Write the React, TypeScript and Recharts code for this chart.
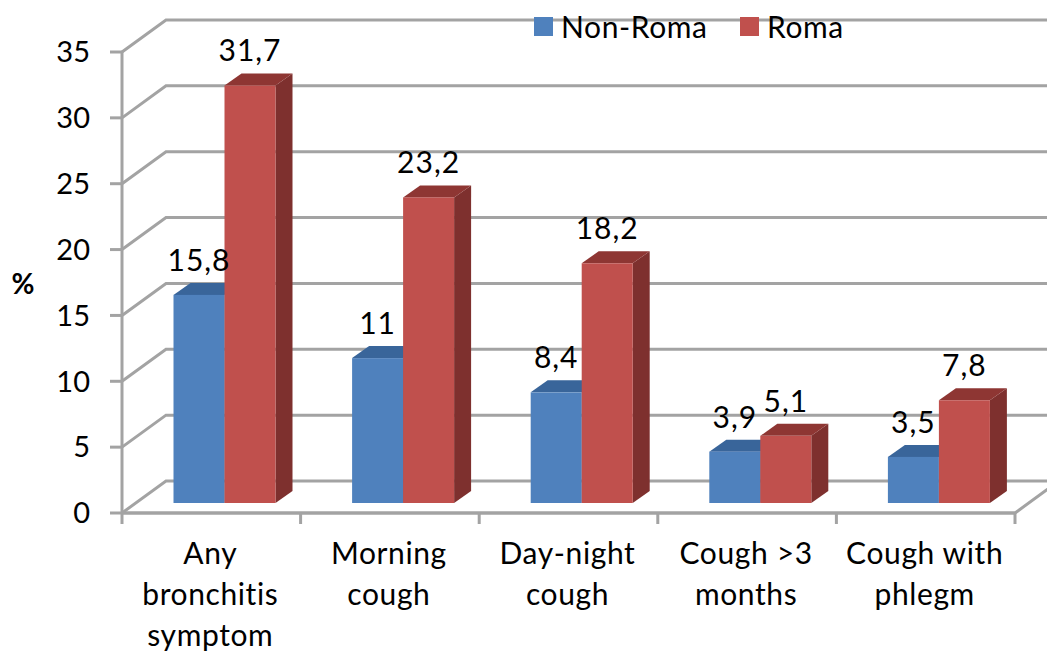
import React from "react";
import { ComposedChart, Bar, XAxis, YAxis, CartesianGrid, Legend, LabelList } from "recharts";

const categoryLines: string[][] = [
  ["Any", "bronchitis", "symptom"],
  ["Morning", "cough"],
  ["Day-night", "cough"],
  ["Cough >3", "months"],
  ["Cough with", "phlegm"],
];
const nonRoma = [15.8, 11, 8.4, 3.9, 3.5];
const roma = [31.7, 23.2, 18.2, 5.1, 7.8];
const yTicks = [0, 5, 10, 15, 20, 25, 30, 35];

const data = categoryLines.map((lines, i) => ({
  category: lines.join(" "),
  lines,
  nonRoma: nonRoma[i],
  roma: roma[i],
}));

const FONT = "Lato, Carlito, sans-serif";
const FONT_SIZE = 30;
const SPACING = 0.6;
const GRID = "#a3a3a3";
const GRID_WIDTH = 3;
const SHIFT_X = 13.5;
const SHIFT_Y = -10;
const DEPTH_X = 17;
const DEPTH_Y = -12;
const WALL_X = 44;
const WALL_Y = -32;

const shape3d = (front: string, top: string, side: string) => (props: any) => {
  const { x, y, width, height } = props;
  const l = x + SHIFT_X;
  const r = l + width;
  const t = y + SHIFT_Y;
  const b = t + height;
  return (
    <g>
      <polygon points={`${r},${t} ${r + DEPTH_X},${t + DEPTH_Y} ${r + DEPTH_X},${b + DEPTH_Y} ${r},${b}`} fill={side} />
      <polygon points={`${l},${t} ${l + DEPTH_X},${t + DEPTH_Y} ${r + DEPTH_X},${t + DEPTH_Y} ${r},${t}`} fill={top} />
      <rect x={l} y={t} width={width} height={height} fill={front} />
    </g>
  );
};

const valueLabel = (props: any) => {
  const { x, y, width, value } = props;
  return (
    <text
      x={x + SHIFT_X + width / 2}
      y={y + SHIFT_Y - 24}
      textAnchor="middle"
      fontFamily={FONT}
      fontSize={FONT_SIZE}
      letterSpacing={1}
      fill="#000"
    >
      {String(value).replace(".", ",")}
    </text>
  );
};

const gridLine = (props: any) => {
  const { x1, x2, y1, index } = props;
  const isFloor = Math.abs(y1 - 513) < 1;
  return (
    <g key={`g-${index}-${y1}`} fill="none" stroke={GRID} strokeWidth={GRID_WIDTH}>
      <polyline points={`${x1},${y1} ${x1 + WALL_X},${y1 + WALL_Y} 1047,${y1 + WALL_Y}`} />
      {isFloor && <polyline points={`${x1},${y1} ${x2},${y1} ${x2 + WALL_X},${y1 + WALL_Y}`} />}
    </g>
  );
};

const XTick = (props: any) => {
  const { x, y, payload, index } = props;
  const half = payload.offset ?? 89.3;
  const lines = categoryLines[index] ?? [];
  return (
    <g>
      <line x1={x - half} x2={x - half} y1={y} y2={y + 11} stroke={GRID} strokeWidth={GRID_WIDTH} />
      {index === categoryLines.length - 1 && (
        <line x1={x + half} x2={x + half} y1={y} y2={y + 11} stroke={GRID} strokeWidth={GRID_WIDTH} />
      )}
      <text textAnchor="middle" fontFamily={FONT} fontSize={FONT_SIZE} letterSpacing={SPACING} fill="#000">
        {lines.map((s, i) => (
          <tspan key={s} x={x - 1} y={y + 51 + i * 41}>
            {s}
          </tspan>
        ))}
      </text>
    </g>
  );
};

const legendContent = (props: any) => {
  const lefts = [534, 740];
  return (
    <>
      {(props.payload ?? []).map((p: any, i: number) => (
        <div
          key={p.value}
          style={{
            position: "absolute",
            left: lefts[i],
            top: 8,
            display: "flex",
            alignItems: "center",
            fontFamily: FONT,
            fontSize: FONT_SIZE,
            letterSpacing: SPACING,
            lineHeight: "36px",
            color: "#000",
            whiteSpace: "nowrap",
          }}
        >
          <span style={{ width: 19, height: 19, background: p.color, marginRight: 8, display: "inline-block" }} />
          {p.value}
        </div>
      ))}
    </>
  );
};

export default function App() {
  return (
    <div style={{ position: "absolute", left: 0, top: 0, width: 1047, height: 651, overflow: "hidden", background: "#fff" }}>
      <ComposedChart
        width={1047}
        height={651}
        data={data}
        margin={{ top: 52, right: 32, bottom: 0, left: 0 }}
        barCategoryGap={0}
        barGap={0}
        style={{ overflow: "visible" }}
      >
        <CartesianGrid vertical={false} horizontal={gridLine} />
        <XAxis
          dataKey="category"
          height={138}
          interval={0}
          tickLine={false}
          tickSize={0}
          tickMargin={0}
          axisLine={{ stroke: GRID, strokeWidth: GRID_WIDTH }}
          tick={XTick}
        />
        <YAxis
          type="number"
          width={122}
          domain={[0, 35]}
          ticks={yTicks}
          interval={0}
          tickSize={12}
          tickMargin={20}
          axisLine={{ stroke: GRID, strokeWidth: GRID_WIDTH }}
          tickLine={{ stroke: GRID, strokeWidth: GRID_WIDTH }}
          tick={{ fontFamily: FONT, fontSize: 29, fill: "#000" }}
          label={(p: any) => (
            <text x={23} y={294} textAnchor="middle" fontFamily={FONT} fontSize={28} fontWeight={700} fill="#000">
              %
            </text>
          )}
        />
        <Legend content={legendContent} wrapperStyle={{ position: "absolute", left: 0, top: 0, width: 1047, height: 0 }} />
        <Bar dataKey="nonRoma" name="Non-Roma" fill="#4f81bd" barSize={51} isAnimationActive={false} shape={shape3d("#4f81bd", "#39659a", "#355f91")}>
          <LabelList dataKey="nonRoma" content={valueLabel} />
        </Bar>
        <Bar dataKey="roma" name="Roma" fill="#c0504d" barSize={51} isAnimationActive={false} shape={shape3d("#c0504d", "#8e3633", "#7e302e")}>
          <LabelList dataKey="roma" content={valueLabel} />
        </Bar>
      </ComposedChart>
    </div>
  );
}
